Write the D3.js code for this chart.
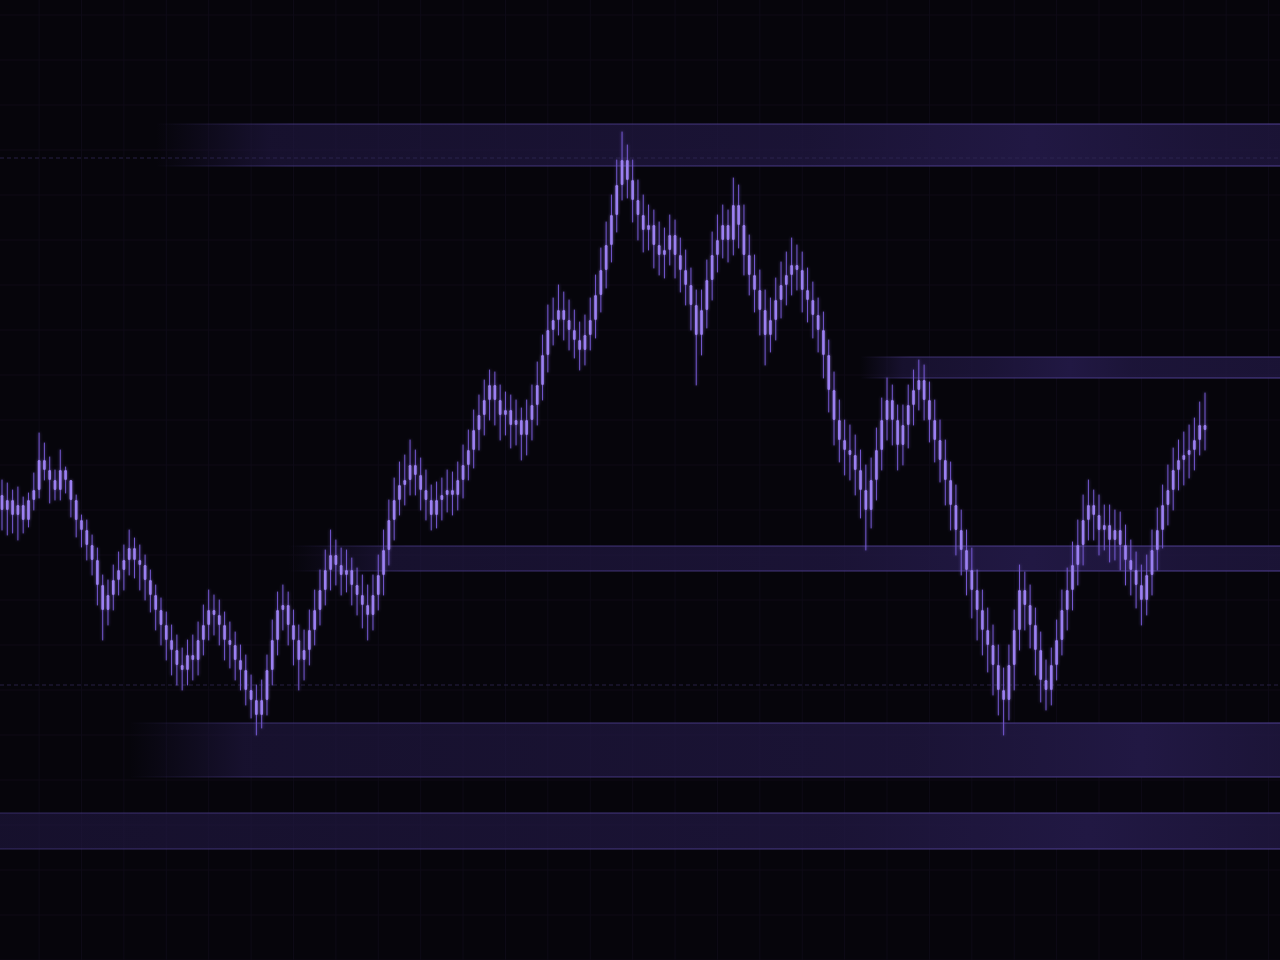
<!DOCTYPE html>
<html><head><meta charset="utf-8">
<script src="https://cdn.jsdelivr.net/npm/d3@7/dist/d3.min.js"></script>
<style>html,body{margin:0;padding:0;background:#06050b;overflow:hidden}</style>
</head><body>
<svg id="chart" width="1280" height="960"></svg>
<script>
// ---- data (price units) ----
const firstOpen = 50.5;
const closes = [49.0,50.0,48.5,49.5,48.0,50.0,51.0,54.0,53.0,52.0,51.0,53.0,52.0,50.0,48.0,47.0,45.5,44.0,41.5,39.0,
40.5,42.0,43.0,44.0,45.2,44.0,43.5,42.0,40.5,39.0,37.5,36.0,35.0,33.5,33.0,34.5,34.0,36.0,37.5,39.0,
38.5,37.5,36.0,35.5,34.0,33.0,31.0,30.0,28.5,30.0,33.0,36.0,39.0,39.5,37.5,36.0,34.0,35.0,37.0,39.0,
41.0,43.0,44.5,43.5,42.5,43.0,41.5,40.5,39.5,38.5,40.5,42.5,45.0,48.0,50.0,51.5,52.0,53.5,52.5,51.0,
50.0,48.5,50.0,50.5,51.0,50.5,52.0,53.5,55.0,57.0,58.5,60.0,61.5,60.0,58.5,59.0,57.5,58.0,56.5,58.0,
59.5,61.5,64.5,67.0,68.0,69.0,68.0,67.0,66.0,65.0,66.5,68.0,70.5,73.0,75.5,78.5,81.5,84.0,82.0,80.0,
78.5,77.0,77.5,75.5,74.5,75.0,76.5,74.5,73.0,71.5,69.5,66.5,69.0,72.0,74.5,76.0,77.5,76.0,79.5,77.5,
74.5,72.5,71.0,69.0,66.5,68.0,70.0,71.5,72.5,73.5,73.0,71.0,70.0,68.5,67.0,64.5,61.0,58.0,56.0,55.0,
54.5,53.0,51.0,49.0,52.0,55.0,58.0,60.0,58.0,55.5,57.5,59.5,61.0,62.0,60.0,58.0,56.0,54.0,52.0,49.5,
47.0,45.0,43.0,41.0,39.0,37.0,35.5,33.5,31.0,30.0,33.5,37.0,41.0,39.5,37.5,35.0,32.0,31.0,33.5,36.0,
39.0,41.0,43.5,45.5,48.0,49.5,48.5,47.0,47.5,46.0,47.0,45.5,44.0,43.0,41.5,40.0,42.5,45.0,47.0,49.5,
51.0,53.0,54.0,54.5,55.0,56.0,57.5,57.0];
const highs = [52.0,51.7,51.0,51.3,50.3,50.7,52.7,56.7,55.7,54.3,53.0,55.0,53.3,51.7,50.5,48.5,48.0,46.5,45.2,42.5,
42.0,43.5,44.8,45.5,47.0,46.2,45.5,44.5,43.0,41.5,40.2,38.8,37.5,36.5,35.2,36.0,36.5,37.8,39.5,41.0,
40.5,40.0,38.8,37.8,36.8,35.5,34.5,32.5,31.5,32.0,34.5,38.0,40.8,41.5,40.8,39.0,37.5,37.0,39.0,41.0,
43.0,45.0,47.0,46.0,45.2,45.0,44.2,43.2,42.5,41.5,42.5,44.5,47.0,50.0,52.2,53.8,54.5,56.0,55.0,54.2,
53.0,51.5,51.8,52.2,53.0,52.8,53.8,55.5,57.0,59.0,60.5,62.0,63.0,62.8,61.5,60.8,60.5,60.0,59.2,60.0,
61.5,63.8,66.5,69.5,70.2,71.5,70.8,70.0,69.0,67.8,68.5,70.2,72.5,75.2,77.8,80.5,84.0,86.8,85.5,84.0,
82.0,80.5,79.5,79.0,77.8,77.2,78.5,78.0,76.2,75.0,73.2,71.0,71.0,74.0,76.8,78.5,79.5,79.0,82.2,81.5,
79.5,76.5,74.5,73.0,71.0,70.2,72.2,73.8,74.8,76.2,75.5,74.8,73.2,71.8,70.2,68.8,66.0,62.8,60.0,58.0,
57.5,56.5,55.0,53.5,54.2,57.2,60.2,62.2,61.5,59.5,59.5,61.5,63.0,64.0,63.5,61.8,60.0,58.0,56.0,53.8,
51.5,49.0,47.0,45.2,43.0,41.0,39.2,37.5,35.5,33.2,35.5,39.0,43.5,42.8,41.5,39.2,36.8,34.0,35.2,38.0,
41.0,43.2,45.8,48.0,50.5,52.0,51.0,50.5,49.5,49.5,49.0,48.8,47.5,46.0,44.8,43.5,44.5,47.0,49.2,51.5,
53.5,55.2,56.0,56.8,57.5,58.2,59.8,60.7];
const lows = [47.0,46.5,46.7,46.0,46.7,47.3,49.0,50.2,52.0,49.7,50.0,50.0,50.7,48.3,46.3,45.3,44.0,42.5,39.5,36.0,
37.5,39.0,40.5,41.0,42.5,42.2,41.0,40.0,38.8,37.0,35.5,34.0,32.5,31.5,31.0,31.5,32.0,32.5,34.5,36.0,
36.5,35.5,34.0,33.2,32.0,31.0,29.5,28.2,26.5,27.2,28.5,31.5,34.5,37.0,35.5,33.5,31.0,32.0,33.5,35.5,
37.5,39.5,41.0,41.5,40.5,40.8,39.5,38.5,37.2,36.0,37.0,39.0,40.5,43.5,46.0,48.5,49.5,50.5,50.5,49.0,
48.0,47.0,47.2,48.0,48.8,48.5,49.0,50.2,52.0,53.2,55.0,56.5,58.0,57.5,56.0,56.5,55.2,55.5,54.0,54.5,
56.0,57.5,60.0,62.8,65.5,66.5,66.0,65.0,64.2,63.0,63.5,65.0,66.2,68.8,71.2,73.8,76.8,80.0,80.2,77.8,
76.0,74.8,75.0,73.2,72.5,72.2,73.5,72.2,70.8,69.5,67.0,61.5,64.5,67.2,70.0,72.8,74.2,73.8,74.5,75.2,
72.5,70.5,68.8,66.5,63.5,64.8,66.0,68.2,69.5,70.5,71.0,68.8,67.8,66.2,64.8,62.2,58.8,55.5,53.8,52.5,
52.0,50.5,48.2,45.0,47.2,50.0,53.0,56.0,55.5,53.0,53.5,55.2,57.5,59.0,58.0,55.8,53.8,51.8,49.5,47.0,
44.5,42.5,40.5,38.2,36.0,34.5,32.8,30.5,28.5,26.5,28.0,31.0,35.0,37.0,35.2,32.5,29.8,29.0,29.5,32.0,
34.5,37.0,39.0,41.5,43.5,46.0,46.0,44.5,45.0,43.8,44.0,43.0,41.5,40.5,39.2,37.5,38.5,40.5,43.0,45.2,
47.5,49.0,51.0,51.5,52.2,53.0,54.5,55.0];

// support / resistance zones: [top price, bottom price, starting candle index]
const zoneTops    = [87.6, 64.3, 45.4, 27.7, 18.7];
const zoneBottoms = [83.4, 62.2, 42.9, 22.3, 15.1];
const zoneStarts  = [29, 162, 54, 24, 0];
const zoneGlowAt  = [0.78, 0.5, 0.75, 0.88, 0.85];
// dashed reference levels
const refLevels = [84.2, 31.5];

// ---- chart ----
const W = 1280, H = 960;
const n = closes.length;
const opens = closes.map((c, i) => i === 0 ? firstOpen : closes[i - 1]);
const candles = d3.range(n).map(i => ({i, o: opens[i], h: highs[i], l: lows[i], c: closes[i]}));

const x = d3.scaleLinear().domain([0, n - 1]).range([2, 1205]);
const y = d3.scaleLinear().domain([4, 100]).range([H, 0]);

const svg = d3.select('#chart');
const defs = svg.append('defs');

const glow = defs.append('filter').attr('id', 'glow')
  .attr('x', '-50%').attr('y', '-20%').attr('width', '200%').attr('height', '140%');
glow.append('feGaussianBlur').attr('stdDeviation', 1.6).attr('result', 'b');
glow.append('feComponentTransfer').attr('in', 'b').attr('result', 'b2')
  .append('feFuncA').attr('type', 'linear').attr('slope', 0.7);
const m = glow.append('feMerge');
m.append('feMergeNode').attr('in', 'b2');
m.append('feMergeNode').attr('in', 'SourceGraphic');

svg.append('rect').attr('width', W).attr('height', H).attr('fill', '#06050b');

// faint grid
const grid = svg.append('g').attr('stroke', '#0e0b17').attr('stroke-width', 1);
d3.range(7, n + 12, 8).forEach(k => {
  grid.append('line').attr('x1', x(k)).attr('x2', x(k)).attr('y1', 0).attr('y2', H);
});
d3.range(4, 100, 4.5).forEach(p => {
  grid.append('line').attr('x1', 0).attr('x2', W).attr('y1', y(p)).attr('y2', y(p));
});

// zones
const zg = svg.append('g');
zoneTops.forEach((t, k) => {
  const x0 = zoneStarts[k] === 0 ? 0 : x(zoneStarts[k]);
  const gid = 'zg' + k;
  const g = defs.append('linearGradient').attr('id', gid)
    .attr('gradientUnits', 'userSpaceOnUse').attr('x1', x0).attr('x2', W).attr('y1', 0).attr('y2', 0);
  const glowPos = zoneGlowAt[k];
  [[0, zoneStarts[k] === 0 ? 0.6 : 0], [0.1, 0.62], [glowPos - 0.2, 0.75], [glowPos, 1], [Math.min(1, glowPos + 0.15), 0.8], [1, 0.75]]
    .forEach(([o, a]) => g.append('stop').attr('offset', o).attr('stop-color', '#211843').attr('stop-opacity', a));
  const lg = defs.append('linearGradient').attr('id', gid + 'l')
    .attr('gradientUnits', 'userSpaceOnUse').attr('x1', x0).attr('x2', W).attr('y1', 0).attr('y2', 0);
  [[0, zoneStarts[k] === 0 ? 0.5 : 0], [0.12, 0.6], [1, 0.85]]
    .forEach(([o, a]) => lg.append('stop').attr('offset', o).attr('stop-color', '#5a48a6').attr('stop-opacity', a));
  zg.append('rect').attr('x', x0).attr('width', W - x0)
    .attr('y', y(t)).attr('height', y(zoneBottoms[k]) - y(t)).attr('fill', `url(#${gid})`);
  [t, zoneBottoms[k]].forEach(p => zg.append('line')
    .attr('x1', x0).attr('x2', W).attr('y1', y(p)).attr('y2', y(p))
    .attr('stroke', `url(#${gid}l)`).attr('stroke-width', 1));
});

// dashed levels
refLevels.forEach(p => svg.append('line')
  .attr('x1', 0).attr('x2', W).attr('y1', y(p)).attr('y2', y(p))
  .attr('stroke', '#2e2652').attr('stroke-width', 1).attr('stroke-dasharray', '4,3').attr('opacity', 0.8));

// candles
const cg = svg.append('g').attr('filter', 'url(#glow)');
cg.selectAll('line.w').data(candles).join('line').attr('class', 'w')
  .attr('x1', d => x(d.i)).attr('x2', d => x(d.i))
  .attr('y1', d => y(d.h)).attr('y2', d => y(d.l))
  .attr('stroke', '#7458d0').attr('stroke-width', 1).attr('stroke-linecap', 'round');
cg.selectAll('rect.b').data(candles).join('rect').attr('class', 'b')
  .attr('x', d => x(d.i) - 1.3).attr('width', 2.6)
  .attr('y', d => y(Math.max(d.o, d.c)))
  .attr('height', d => Math.max(1, Math.abs(y(d.o) - y(d.c))))
  .attr('rx', 1.2)
  .attr('fill', '#9c80f2');
</script>
</body></html>
